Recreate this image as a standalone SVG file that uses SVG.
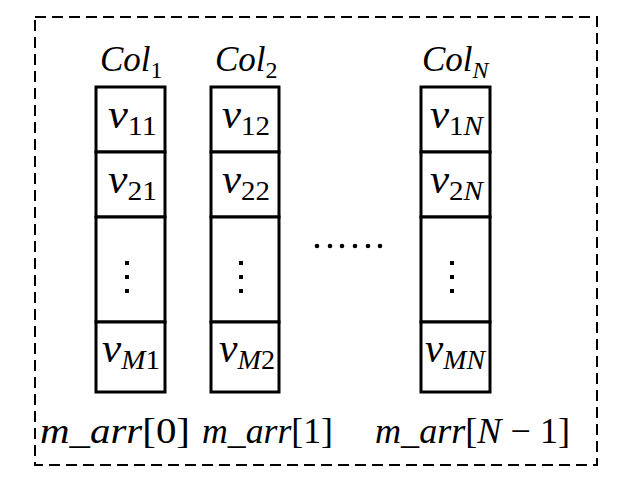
<svg xmlns="http://www.w3.org/2000/svg" width="618" height="477" viewBox="0 0 618 477">
<style>
.frame{fill:none;stroke:#000;stroke-width:2;stroke-dasharray:11,6}
.cell{fill:#fff;stroke:#000;stroke-width:3}
.t{font-family:"Liberation Serif","DejaVu Serif",serif;fill:#000}
.i{font-style:italic}
.b{font-size:35px}
.v{font-size:40px}
.s{font-size:27px}
.cs{font-size:24px}
.l{font-size:35px}
.dot{fill:#000}
</style>
<rect class="frame" x="35" y="17" width="562" height="448"/>
<g id="col1">
<text class="t b" x="100" y="71"><tspan class="i">Col</tspan><tspan class="cs" dy="7">1</tspan></text>
<rect class="cell" x="96" y="87" width="69" height="65"/>
<rect class="cell" x="96" y="152" width="69" height="65"/>
<rect class="cell" x="96" y="217" width="69" height="105"/>
<rect class="cell" x="96" y="322" width="69" height="70"/>
<text class="t v" x="108" y="128" textLength="49" lengthAdjust="spacingAndGlyphs"><tspan class="i">v</tspan><tspan class="s" dy="7">11</tspan></text>
<text class="t v" x="108" y="193" textLength="49" lengthAdjust="spacingAndGlyphs"><tspan class="i">v</tspan><tspan class="s" dy="7">21</tspan></text>
<rect class="dot" x="125" y="261" width="4" height="4"/><rect class="dot" x="125" y="275" width="4" height="4"/><rect class="dot" x="125" y="289" width="4" height="4"/>
<text class="t v" x="102" y="362" textLength="58" lengthAdjust="spacingAndGlyphs"><tspan class="i">v</tspan><tspan class="s i" dy="7">M</tspan><tspan class="s">1</tspan></text>
</g>
<g id="col2">
<text class="t b" x="215" y="71"><tspan class="i">Col</tspan><tspan class="cs" dy="7">2</tspan></text>
<rect class="cell" x="211" y="87" width="68" height="65"/>
<rect class="cell" x="211" y="152" width="68" height="65"/>
<rect class="cell" x="211" y="217" width="68" height="105"/>
<rect class="cell" x="211" y="322" width="68" height="70"/>
<text class="t v" x="222" y="128" textLength="48" lengthAdjust="spacingAndGlyphs"><tspan class="i">v</tspan><tspan class="s" dy="7">12</tspan></text>
<text class="t v" x="222" y="193" textLength="48" lengthAdjust="spacingAndGlyphs"><tspan class="i">v</tspan><tspan class="s" dy="7">22</tspan></text>
<rect class="dot" x="239" y="261" width="4" height="4"/><rect class="dot" x="239" y="275" width="4" height="4"/><rect class="dot" x="239" y="289" width="4" height="4"/>
<text class="t v" x="219" y="362" textLength="56" lengthAdjust="spacingAndGlyphs"><tspan class="i">v</tspan><tspan class="s i" dy="7">M</tspan><tspan class="s">2</tspan></text>
</g>
<g id="colN">
<text class="t b" x="422" y="71"><tspan class="i">Col</tspan><tspan class="cs i" dy="7">N</tspan></text>
<rect class="cell" x="421" y="87" width="69" height="65"/>
<rect class="cell" x="421" y="152" width="69" height="65"/>
<rect class="cell" x="421" y="217" width="69" height="105"/>
<rect class="cell" x="421" y="322" width="69" height="70"/>
<text class="t v" x="430" y="128" textLength="53" lengthAdjust="spacingAndGlyphs"><tspan class="i">v</tspan><tspan class="s" dy="7">1</tspan><tspan class="s i">N</tspan></text>
<text class="t v" x="430" y="193" textLength="53" lengthAdjust="spacingAndGlyphs"><tspan class="i">v</tspan><tspan class="s" dy="7">2</tspan><tspan class="s i">N</tspan></text>
<rect class="dot" x="450" y="261" width="4" height="4"/><rect class="dot" x="450" y="275" width="4" height="4"/><rect class="dot" x="450" y="289" width="4" height="4"/>
<text class="t v" x="425" y="362" textLength="60" lengthAdjust="spacingAndGlyphs"><tspan class="i">v</tspan><tspan class="s i" dy="7">MN</tspan></text>
</g>
<g id="ellipsis">
<circle class="dot" cx="317" cy="246" r="2.3"/><circle class="dot" cx="330" cy="246" r="2.3"/><circle class="dot" cx="342" cy="246" r="2.3"/><circle class="dot" cx="355" cy="246" r="2.3"/><circle class="dot" cx="368" cy="246" r="2.3"/><circle class="dot" cx="380" cy="246" r="2.3"/>
</g>
<g id="labels">
<text class="t l" x="40" y="443" textLength="150" lengthAdjust="spacingAndGlyphs"><tspan class="i">m_arr</tspan>[0]</text>
<text class="t l" x="202" y="443" textLength="131" lengthAdjust="spacingAndGlyphs"><tspan class="i">m_arr</tspan>[1]</text>
<text class="t l" x="375" y="443" textLength="195" lengthAdjust="spacingAndGlyphs"><tspan class="i">m_arr</tspan>[<tspan class="i">N</tspan> − 1]</text>
</g>
</svg>
